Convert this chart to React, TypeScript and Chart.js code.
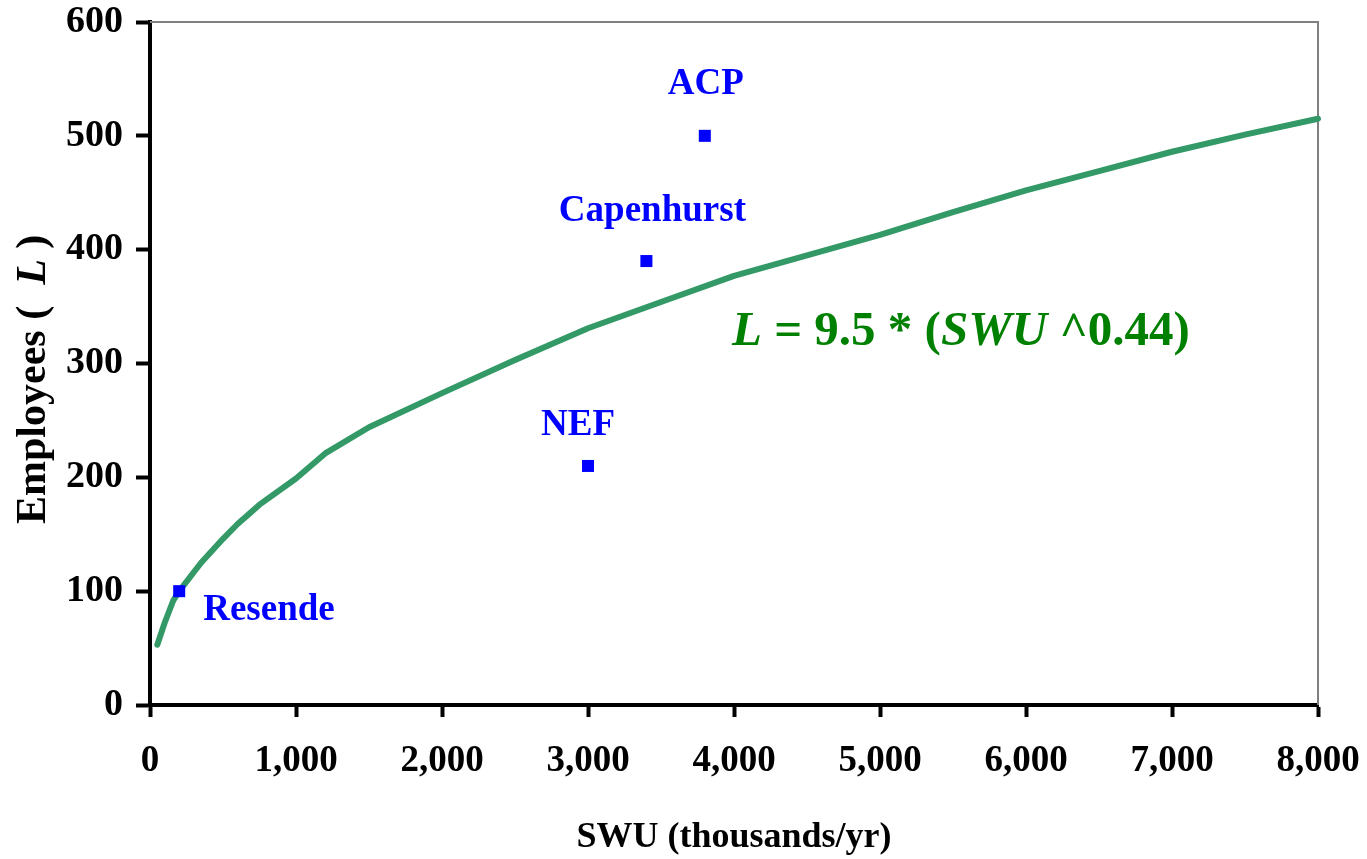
import React, { useEffect, useRef } from 'react';
import { Chart, registerables } from 'chart.js';

Chart.register(...registerables);

// ---- data ----
const curveSwu = [50, 100, 160, 200, 350, 500, 600, 750, 1000, 1200, 1500, 2000, 2500, 3000, 3500, 4000, 4500, 5000, 5500, 6000, 6500, 7000, 7500, 8000];
const curveEmployees = [53, 72, 92, 100, 125, 146, 159, 176, 199, 221, 244, 274, 303, 331, 354, 377, 395, 413, 433, 452, 469, 486, 501, 515];

const siteNames = ['Resende', 'NEF', 'Capenhurst', 'ACP'];
const siteSwu = [200, 3000, 3400, 3800];
const siteEmployees = [100, 210, 390, 500];

const xTickValues = [0, 1000, 2000, 3000, 4000, 5000, 6000, 7000, 8000];
const yTickValues = [0, 100, 200, 300, 400, 500, 600];

const xTitle = 'SWU (thousands/yr)';
const yTitleParts = ['Employees (  ', 'L', ' )'];
const equationParts = ['L', ' = 9.5 * (', 'SWU', ' ^0.44)'];

const SERIF = '"Liberation Serif", "Times New Roman", Times, serif';

// label placement (style only): offset from the marker in px
const labelStyle: Record<string, { dx: number; dy: number; align: CanvasTextAlign }> = {
  Resende: { dx: 24, dy: 29, align: 'left' },
  NEF: { dx: -10, dy: -31, align: 'center' },
  Capenhurst: { dx: 6, dy: -40, align: 'center' },
  ACP: { dx: 1, dy: -42, align: 'center' },
};

export default function App() {
  const ref = useRef<HTMLCanvasElement>(null);

  useEffect(() => {
    document.body.style.margin = '0';
    const canvas = ref.current;
    if (!canvas) return;

    const overlay = {
      id: 'overlay',
      beforeDatasetsDraw(chart: any) {
        const { ctx, chartArea: a } = chart;
        ctx.save();
        ctx.strokeStyle = '#808080';
        ctx.lineWidth = 2;
        ctx.beginPath();
        ctx.moveTo(a.left, a.top);
        ctx.lineTo(a.right, a.top);
        ctx.lineTo(a.right, a.bottom);
        ctx.stroke();
        ctx.restore();
      },
      afterDraw(chart: any) {
        const { ctx, chartArea: a, scales } = chart;
        const xs = scales.x;
        const ys = scales.y;
        ctx.save();

        // site labels
        ctx.fillStyle = '#0000FF';
        ctx.font = `bold 37px ${SERIF}`;
        ctx.textBaseline = 'alphabetic';
        siteNames.forEach((name, i) => {
          const st = labelStyle[name];
          const px = xs.getPixelForValue(siteSwu[i]);
          const py = ys.getPixelForValue(siteEmployees[i]);
          ctx.textAlign = st.align;
          ctx.fillText(name, px + st.dx, py + st.dy);
        });

        // equation
        ctx.fillStyle = '#008000';
        ctx.textAlign = 'left';
        let ex = a.left + 582;
        const ey = a.top + 323;
        equationParts.forEach((t, i) => {
          ctx.font = `${i % 2 === 0 ? 'italic ' : ''}bold 49px ${SERIF}`;
          ctx.fillText(t, ex, ey);
          ex += ctx.measureText(t).width;
        });

        // x-axis title
        ctx.fillStyle = '#000';
        ctx.font = `bold 36px ${SERIF}`;
        ctx.textAlign = 'center';
        ctx.fillText(xTitle, (a.left + a.right) / 2, 847);

        // y-axis title (rotated, mixed italic)
        ctx.translate(45, 524);
        ctx.rotate(-Math.PI / 2);
        ctx.textAlign = 'left';
        let tx = 0;
        yTitleParts.forEach((t, i) => {
          ctx.font = `${i === 1 ? 'italic ' : ''}bold 42px ${SERIF}`;
          ctx.fillText(t, tx, 0);
          tx += ctx.measureText(t).width;
        });
        ctx.restore();
      },
    };

    const chart = new Chart(canvas, {
      type: 'scatter',
      data: {
        datasets: [
          {
            label: 'Facilities',
            data: siteSwu.map((x, i) => ({ x, y: siteEmployees[i] })),
            pointStyle: 'rect',
            pointRadius: 8.5,
            pointBorderWidth: 0,
            backgroundColor: '#0000FF',
            borderColor: '#0000FF',
            showLine: false,
            clip: false,
            order: 0,
          },
          {
            label: 'Fit',
            data: curveSwu.map((x, i) => ({ x, y: curveEmployees[i] })),
            showLine: true,
            borderColor: '#339966',
            borderWidth: 6,
            borderCapStyle: 'round',
            borderJoinStyle: 'round',
            pointRadius: 0,
            tension: 0,
            clip: false,
            order: 1,
          },
        ],
      },
      options: {
        animation: false,
        responsive: false,
        maintainAspectRatio: false,
        layout: { padding: { top: 22, right: 49, left: 0, bottom: 0 } },
        plugins: { legend: { display: false }, tooltip: { enabled: false } },
        scales: {
          x: {
            type: 'linear',
            min: 0,
            max: 8000,
            afterBuildTicks: (s: any) => {
              s.ticks = xTickValues.map((v) => ({ value: v }));
            },
            afterFit: (s: any) => {
              s.height = 154;
              s.paddingLeft = 0;
              s.paddingRight = 0;
              s.paddingTop = 0;
              s.paddingBottom = 0;
            },
            ticks: {
              color: '#000',
              font: { family: SERIF, size: 37, weight: 'bold' },
              padding: 22,
              maxRotation: 0,
              autoSkip: false,
              callback: (v: any) => Number(v).toLocaleString('en-US'),
            },
            grid: {
              drawOnChartArea: false,
              drawTicks: true,
              tickLength: 12,
              tickWidth: 4,
              tickColor: '#000',
            },
            border: { display: true, color: '#000', width: 4 },
          },
          y: {
            type: 'linear',
            min: 0,
            max: 600,
            afterBuildTicks: (s: any) => {
              s.ticks = yTickValues.map((v) => ({ value: v }));
            },
            afterFit: (s: any) => {
              s.width = 150;
              s.paddingLeft = 0;
              s.paddingRight = 0;
              s.paddingTop = 0;
              s.paddingBottom = 0;
            },
            ticks: {
              color: '#000',
              font: { family: SERIF, size: 38, weight: 'bold' },
              padding: 13,
              autoSkip: false,
            },
            grid: {
              drawOnChartArea: false,
              drawTicks: true,
              tickLength: 14,
              tickWidth: 4,
              tickColor: '#000',
            },
            border: { display: true, color: '#000', width: 4 },
          },
        },
      },
      plugins: [overlay],
    } as any);

    return () => chart.destroy();
  }, []);

  return (
    <div style={{ position: 'absolute', left: 0, top: 0, width: 1367, height: 859, background: '#fff' }}>
      <canvas ref={ref} width={1367} height={859} style={{ display: 'block' }} />
    </div>
  );
}
